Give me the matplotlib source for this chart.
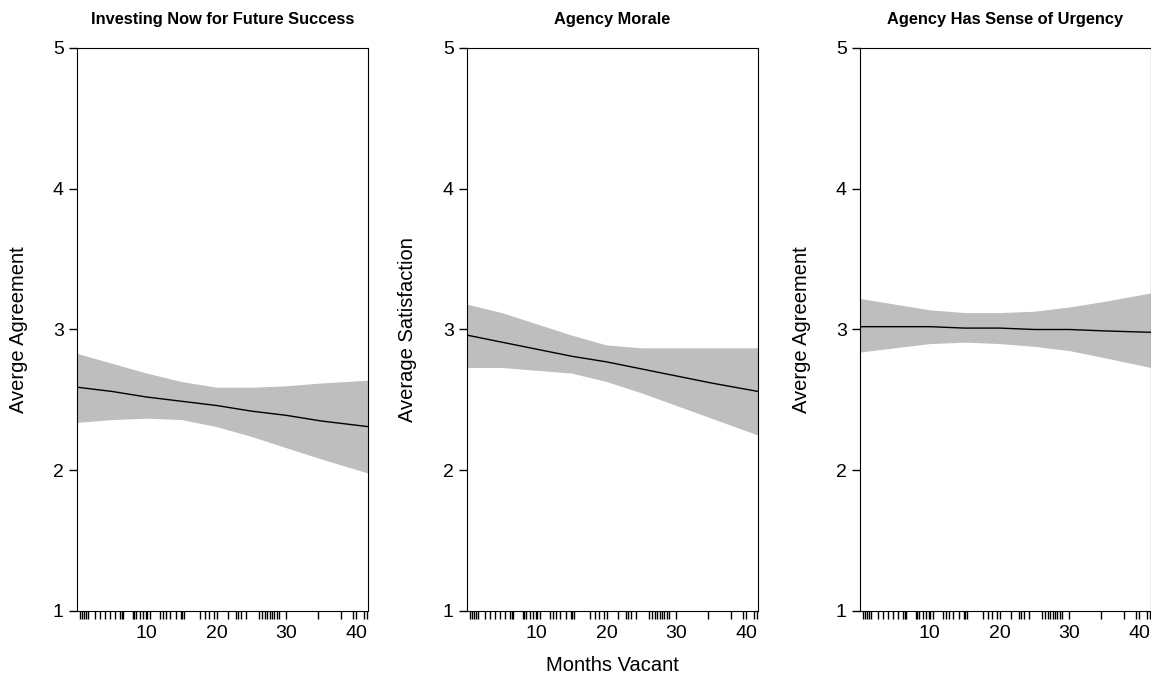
import matplotlib
matplotlib.use('Agg')
import matplotlib.pyplot as plt

# --- 数据 (从图上读出来的估计值) ---
months = [0, 5, 10, 15, 20, 25, 30, 35, 41.7]

titles = ['Investing Now for Future Success', 'Agency Morale', 'Agency Has Sense of Urgency']
ylabels = ['Averge Agreement', 'Average Satisfaction', 'Averge Agreement']

# 拟合线 + 置信带
fit_invest = [2.59, 2.56, 2.52, 2.49, 2.46, 2.42, 2.39, 2.35, 2.31]
upper_invest = [2.83, 2.76, 2.69, 2.63, 2.59, 2.59, 2.60, 2.62, 2.64]
lower_invest = [2.34, 2.36, 2.37, 2.36, 2.31, 2.24, 2.16, 2.08, 1.98]

fit_morale = [2.96, 2.91, 2.86, 2.81, 2.77, 2.72, 2.67, 2.62, 2.56]
upper_morale = [3.18, 3.12, 3.04, 2.96, 2.89, 2.87, 2.87, 2.87, 2.87]
lower_morale = [2.73, 2.73, 2.71, 2.69, 2.63, 2.55, 2.46, 2.37, 2.25]

fit_urgency = [3.02, 3.02, 3.02, 3.01, 3.01, 3.00, 3.00, 2.99, 2.98]
upper_urgency = [3.22, 3.18, 3.14, 3.12, 3.12, 3.13, 3.16, 3.20, 3.26]
lower_urgency = [2.84, 2.87, 2.90, 2.91, 2.90, 2.88, 2.85, 2.80, 2.73]

# 底部 rug: 每个观测的空缺月数
rug_months = [0.4, 0.7, 1.0, 1.3, 1.6, 2.6, 3.3, 4.0, 4.7, 5.4, 6.2, 6.4, 6.6,
              8.0, 8.2, 8.5, 9.0, 9.4, 9.9, 10.4, 11.9, 12.3, 12.8, 13.3, 14.2,
              14.9, 15.1, 15.4, 17.6, 18.3, 18.9, 19.6, 21.6, 22.8, 23.1, 23.5,
              24.2, 26.1, 26.5, 26.9, 27.2, 27.6, 27.9, 28.3, 28.7, 29.0, 34.5,
              37.8, 39.6, 41.1, 41.5]

x_ticks = [10, 20, 30, 40]
y_ticks = [1, 2, 3, 4, 5]


def draw_panel(ax, title, ylabel, fit, lower, upper):
    ax.fill_between(months, lower, upper, color='#bebebe', linewidth=0)
    ax.plot(months, fit, color='black', linewidth=1.0)

    ax.set_xlim(0, 41.7)
    ax.set_ylim(1, 5)
    ax.set_xticks(x_ticks)
    ax.set_yticks(y_ticks)
    # rug 用 minor ticks 画, 和刻度线一样长
    ax.set_xticks(rug_months, minor=True)
    ax.tick_params(which='both', direction='out', length=5.5, width=1.0,
                   labelsize=14, pad=4)
    ax.tick_params(axis='x', which='major', pad=4.5)

    for s in ax.spines.values():
        s.set_linewidth(0.8)

    ax.set_title(title, fontsize=11.8, fontweight='bold',
                 family=['Liberation Sans Narrow', 'Liberation Sans'], pad=17)
    ax.set_ylabel(ylabel, fontsize=14.5)
    ax.yaxis.set_label_coords(-0.17, 0.5)


def main():
    plt.rcParams['font.family'] = ['Liberation Sans', 'DejaVu Sans']

    fig = plt.figure(figsize=(11.51, 6.77), dpi=100)
    lefts = [0.0669, 0.4057, 0.7472]
    axes = [fig.add_axes([l, 0.0975, 0.2528, 0.8316]) for l in lefts]

    draw_panel(axes[0], titles[0], ylabels[0], fit_invest, lower_invest, upper_invest)
    draw_panel(axes[1], titles[1], ylabels[1], fit_morale, lower_morale, upper_morale)
    draw_panel(axes[2], titles[2], ylabels[2], fit_urgency, lower_urgency, upper_urgency)

    axes[1].set_xlabel('Months Vacant', fontsize=14.5)
    axes[1].xaxis.set_label_coords(0.5, -0.08)

    fig.savefig('out.png', dpi=100)


if __name__ == '__main__':
    main()
